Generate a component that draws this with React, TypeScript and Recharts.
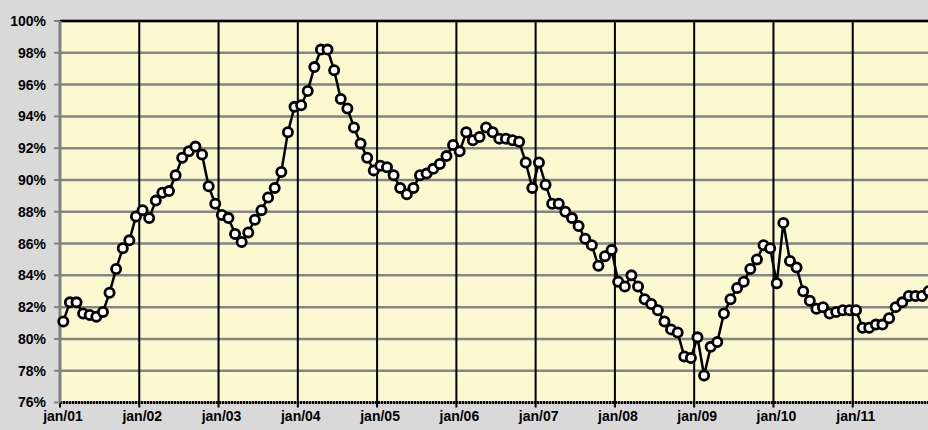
import React from 'react';
import { LineChart, Line, XAxis, YAxis, CartesianGrid, ReferenceLine } from 'recharts';

// monthly values (%), one array per year
const y2001 = [81.1, 82.3, 82.3, 81.6, 81.5, 81.4, 81.7, 82.9, 84.4, 85.7, 86.2, 87.7];
const y2002 = [88.1, 87.6, 88.7, 89.2, 89.3, 90.3, 91.4, 91.8, 92.1, 91.6, 89.6, 88.5];
const y2003 = [87.8, 87.6, 86.6, 86.1, 86.7, 87.5, 88.1, 88.9, 89.5, 90.5, 93.0, 94.6];
const y2004 = [94.7, 95.6, 97.1, 98.2, 98.2, 96.9, 95.1, 94.5, 93.3, 92.3, 91.4, 90.6];
const y2005 = [90.9, 90.8, 90.3, 89.5, 89.1, 89.5, 90.3, 90.4, 90.7, 91.0, 91.5, 92.2];
const y2006 = [91.8, 93.0, 92.5, 92.7, 93.3, 93.0, 92.6, 92.6, 92.5, 92.4, 91.1, 89.5];
const y2007 = [91.1, 89.7, 88.5, 88.5, 88.0, 87.6, 87.1, 86.3, 85.9, 84.6, 85.2, 85.6];
const y2008 = [83.6, 83.3, 84.0, 83.3, 82.5, 82.2, 81.8, 81.1, 80.6, 80.4, 78.9, 78.8];
const y2009 = [80.1, 77.7, 79.5, 79.8, 81.6, 82.5, 83.2, 83.6, 84.4, 85.0, 85.9, 85.7];
const y2010 = [83.5, 87.3, 84.9, 84.5, 83.0, 82.4, 81.9, 82.0, 81.6, 81.7, 81.8, 81.8];
const y2011 = [81.8, 80.7, 80.7, 80.9, 80.9, 81.3, 82.0, 82.3, 82.7, 82.7, 82.7, 83.0];

const yearLabels = ['jan/01', 'jan/02', 'jan/03', 'jan/04', 'jan/05', 'jan/06', 'jan/07', 'jan/08', 'jan/09', 'jan/10', 'jan/11'];
const yTicks = [76, 78, 80, 82, 84, 86, 88, 90, 92, 94, 96, 98, 100];

const values = [...y2001, ...y2002, ...y2003, ...y2004, ...y2005, ...y2006, ...y2007, ...y2008, ...y2009, ...y2010, ...y2011];
// each month sits in the middle of its slot
const data = values.map((v, i) => ({ m: i + 0.5, v }));
const xTicks = yearLabels.map((_, i) => i * 12);

const font = 'Arial, "Liberation Sans", sans-serif';

const XTick = (props: any) => {
  const { x, y, payload } = props;
  return (
    <text x={x + 3} y={y} dy="0.71em" textAnchor="middle" fill="#000" fontSize={14} fontWeight="bold" fontFamily={font}>
      {yearLabels[payload.value / 12]}
    </text>
  );
};

const App: React.FC = () => {
  return (
    <div style={{ position: 'absolute', left: 0, top: 0, width: 928, height: 430, overflow: 'hidden', background: '#d9d9d9' }}>
      <LineChart width={932} height={430} data={data} margin={{ top: 21, right: 0, bottom: 0, left: 0 }}>
        <CartesianGrid horizontal={true} vertical={false} stroke="#858585" strokeWidth={2.5} fill="#fcf8d0" />
        <CartesianGrid horizontal={false} vertical={true} stroke="#000" strokeWidth={2} />
        <XAxis
          dataKey="m"
          type="number"
          domain={[0, 132]}
          ticks={xTicks}
          height={27.5}
          tickSize={5}
          tickMargin={4}
          tick={<XTick />}
          tickLine={{ stroke: '#000', strokeWidth: 2 }}
          axisLine={{ stroke: '#000', strokeWidth: 3, strokeDasharray: '2 1' }}
          interval={0}
        />
        <YAxis
          type="number"
          domain={[76, 100]}
          ticks={yTicks}
          width={60}
          tickSize={6}
          tickMargin={8}
          interval={0}
          tickFormatter={(v) => `${v}%`}
          tick={{ fill: '#000', fontSize: 14, fontWeight: 'bold', fontFamily: font }}
          tickLine={{ stroke: '#808080', strokeWidth: 2 }}
          axisLine={{ stroke: '#808080', strokeWidth: 3 }}
        />
        <ReferenceLine y={100} stroke="#000" strokeWidth={2.5} />
        <Line
          type="linear"
          dataKey="v"
          stroke="#000"
          strokeWidth={2.5}
          dot={{ r: 4.6, fill: '#fff', stroke: '#000', strokeWidth: 2.8 }}
          isAnimationActive={false}
        />
      </LineChart>
    </div>
  );
};

export default App;
